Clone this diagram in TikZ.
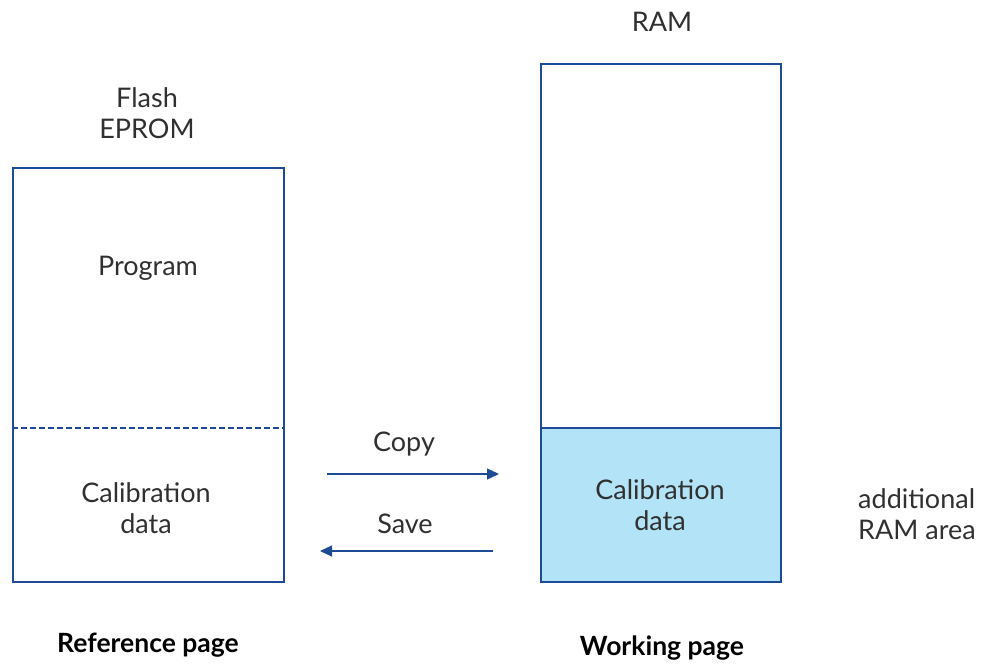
\documentclass[tikz,border=0pt]{standalone}
\usepackage{fontspec}
\setmainfont{Lato}
\usetikzlibrary{arrows.meta}
\definecolor{edge}{HTML}{1E4B96}
\definecolor{calfill}{HTML}{B3E3F7}
\definecolor{txt}{HTML}{303030}
\begin{document}
\begin{tikzpicture}[x=1pt,y=-1pt,
  box/.style={draw=edge,line width=2pt,inner sep=0pt},
  lbl/.style={text=txt,font=\fontsize{27}{31}\selectfont,align=center,inner sep=0pt},
  pagecap/.style={text=black,font=\fontsize{26.5}{30}\selectfont\bfseries,inner sep=0pt},
  flow/.style={draw=edge,line width=1.2pt,-{Triangle[length=12pt,width=11pt]}}]
\useasboundingbox (0,0) rectangle (981,664);
% left memory
\node[box,minimum width=271pt,minimum height=414pt] (flash) at (148.5,375) {};
\draw[edge,line width=2pt,dash pattern=on 6pt off 3pt] (flash.west |- 0,428) coordinate (dl) -- (flash.east |- 0,428) coordinate (dr);
% right memory
\node[box,minimum width=240pt,minimum height=518pt] (ram) at (661,323) {};
\node[box,fill=calfill,minimum width=240pt,minimum height=154pt] (cal) at (661,505) {};
% texts
\node[lbl] (flashlbl) at (147,113) {Flash\\EPROM};
\node[lbl] (prog) at (148,268) {Program};
\node[lbl] (calL) at (146,508) {Calibration\\data};
\node[lbl] (ramlbl) at (662,22) {RAM};
\node[lbl] (calR) at (660,505) {Calibration\\data};
\node[lbl,align=left,anchor=west] (add) at (858,514) {additional\\RAM area};
\node[lbl] (copy) at (404,444) {Copy};
\node[lbl] (save) at (405,524) {Save};
\node[pagecap] (refp) at (148,645) {Reference page};
\node[pagecap] (workp) at (662,648) {Working page};
% arrows
\coordinate (c1) at (327,474);
\coordinate (c2) at (499,474);
\coordinate (s1) at (493,551);
\coordinate (s2) at (320,551);
\draw[flow] (c1) -- (c2);
\draw[flow] (s1) -- (s2);
\end{tikzpicture}
\end{document}
